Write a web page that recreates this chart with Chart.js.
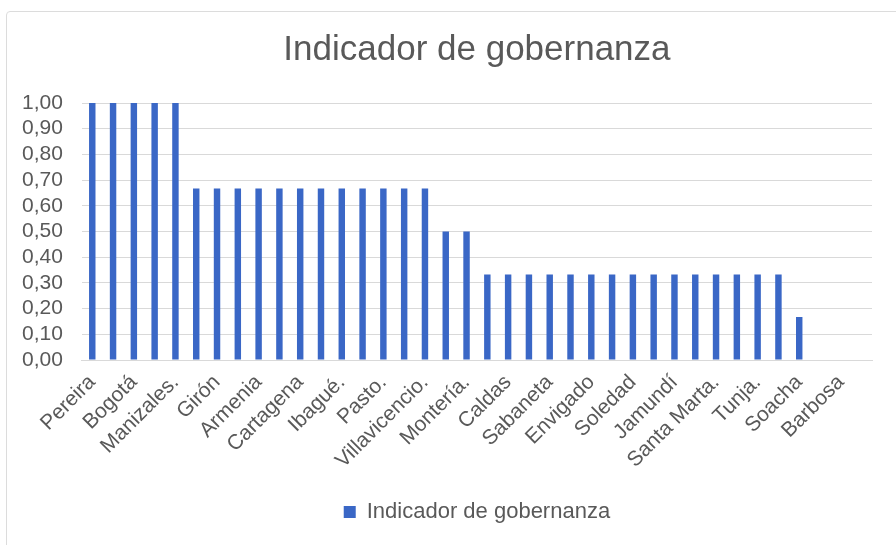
<!DOCTYPE html>
<html>
<head>
<meta charset="utf-8">
<script src="https://cdn.jsdelivr.net/npm/chart.js@4"></script>
<style>
    html, body { margin: 0; padding: 0; background: #fff; overflow: hidden; }
    #wrap { position: relative; width: 896px; height: 545px; }
    #frame {
        position: absolute; left: 6px; top: 11px; width: 920px; height: 600px;
        border: 1px solid #dcdcdc; border-radius: 4px; pointer-events: none;
    }
</style>
</head>
<body>
<div id="wrap">
    <canvas id="chart" width="896" height="545"></canvas>
    <div id="frame"></div>
</div>
<script>
// Only every other city name is printed on the axis in the original; the rest are left blank
const cities = [
    'Pereira', '', 'Bogotá', '', 'Manizales.', '', 'Girón', '', 'Armenia', '',
    'Cartagena', '', 'Ibagué.', '', 'Pasto.', '', 'Villavicencio.', '', 'Montería.', '',
    'Caldas', '', 'Sabaneta', '', 'Envigado', '', 'Soledad', '', 'Jamundí', '',
    'Santa Marta.', '', 'Tunja.', '', 'Soacha', '', 'Barbosa', ''
];
const governance = [
    1.00, 1.00, 1.00, 1.00, 1.00,
    0.667, 0.667, 0.667, 0.667, 0.667, 0.667, 0.667, 0.667, 0.667, 0.667, 0.667, 0.667,
    0.50, 0.50,
    0.333, 0.333, 0.333, 0.333, 0.333, 0.333, 0.333, 0.333, 0.333, 0.333, 0.333, 0.333, 0.333, 0.333, 0.333,
    0.167,
    0, 0, 0
];
const yTicks = [0, 0.1, 0.2, 0.3, 0.4, 0.5, 0.6, 0.7, 0.8, 0.9, 1.0];

const textColor = '#595959';
const gridColor = '#d9d9d9';
const font = 'Liberation Sans, Arial, sans-serif';

new Chart(document.getElementById('chart'), {
    type: 'bar',
    data: {
        labels: cities,
        datasets: [{
            label: 'Indicador de gobernanza',
            data: governance,
            backgroundColor: '#3a67c6',
            categoryPercentage: 1,
            barPercentage: 0.31
        }]
    },
    options: {
        responsive: false,
        animation: false,
        layout: { padding: { left: 3, right: 24, top: 0, bottom: 12 } },
        plugins: {
            title: {
                display: true,
                fullSize: false,
                text: 'Indicador de gobernanza',
                color: textColor,
                font: { family: font, size: 35, weight: 'normal' },
                padding: { top: 29, bottom: 32 }
            },
            legend: {
                position: 'bottom',
                fullSize: false,
                labels: {
                    color: textColor,
                    font: { family: font, size: 22 },
                    boxWidth: 12,
                    boxHeight: 12,
                    padding: 10
                }
            },
            tooltip: { enabled: false }
        },
        scales: {
            x: {
                grid: { display: false },
                border: { color: gridColor },
                ticks: {
                    autoSkip: false,
                    minRotation: 45,
                    maxRotation: 45,
                    color: textColor,
                    font: { family: font, size: 21 },
                    padding: 2
                },
                afterFit: scale => {
                    scale.height = 131;
                    // let the rotated first label hang into the left margin like the original
                    scale.paddingLeft = 0;
                    scale.paddingRight = 0;
                }
            },
            y: {
                min: 0,
                max: 1,
                afterBuildTicks: scale => {
                    scale.ticks = yTicks.map(v => ({ value: v }));
                },
                grid: { color: gridColor, drawTicks: false },
                border: { display: false },
                ticks: {
                    autoSkip: false,
                    color: textColor,
                    font: { family: font, size: 21 },
                    padding: 19,
                    callback: v => Number(v).toFixed(2).replace('.', ',')
                }
            }
        }
    }
});
</script>
</body>
</html>
